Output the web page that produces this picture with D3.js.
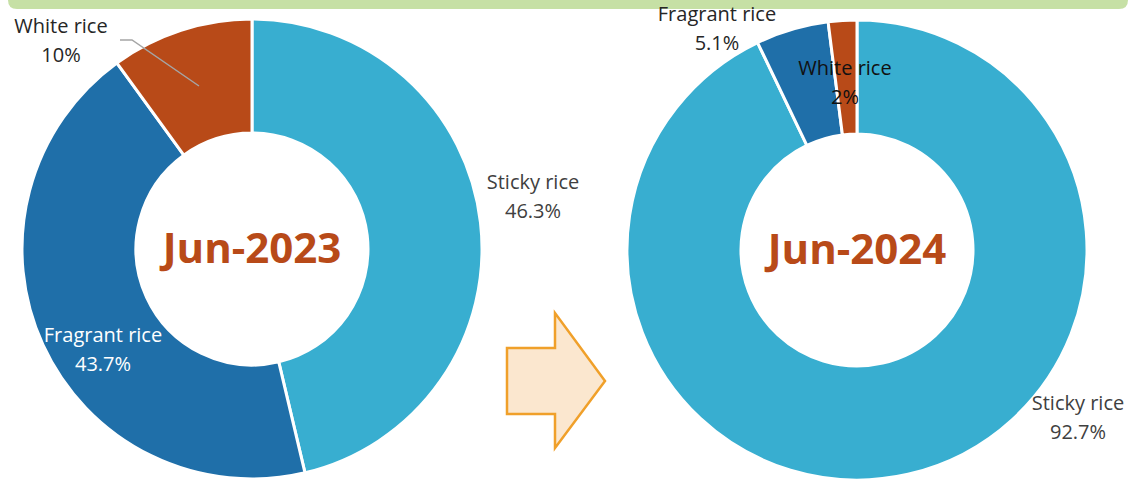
<!DOCTYPE html>
<html>
<head>
<meta charset="utf-8">
<script src="https://cdn.jsdelivr.net/npm/d3@7"></script>
<style>
  body { margin: 0; background: #fff; }
  svg { display: block; font-family: "Open Sans", "Noto Sans", sans-serif; }
</style>
</head>
<body>
<div id="chart"></div>
<script>
// data
const categories = ["Sticky rice", "Fragrant rice", "White rice"];
const values2023 = [46.3, 43.7, 10];
const values2024 = [92.7, 5.1, 2];
const periodLabels = ["Jun-2023", "Jun-2024"];

const W = 1130, H = 481;
const COLOURS = {
    "Sticky rice": "#38aed0",
    "Fragrant rice": "#1f6fa9",
    "White rice": "#b84a18",
    TITLE: "#b84a18",
    BAND: "#c6e0a5",
    ARROW_FILL: "#fbe7cf",
    ARROW_STROKE: "#f0a02a",
    LEADER: "#a5a5a5"
};

// layout of each donut and where its labels sit
const donuts = [
    {
        values: values2023, title: periodLabels[0], cx: 252, cy: 249,
        labels: {
            "Sticky rice": {x: 533, y: 189, fill: "#404040"},
            "Fragrant rice": {x: 103, y: 342, fill: "#ffffff"},
            "White rice": {x: 61, y: 33, fill: "#262626"}
        },
        leader: [[120, 40], [132, 40], [199, 86]]
    },
    {
        values: values2024, title: periodLabels[1], cx: 857, cy: 250,
        labels: {
            "Sticky rice": {x: 1078, y: 410, fill: "#404040"},
            "Fragrant rice": {x: 717, y: 21, fill: "#262626"},
            "White rice": {x: 845, y: 75, fill: "#111111"}
        }
    }
];

const svg = d3.select("#chart").append("svg")
    .attr("width", W)
    .attr("height", H);

// green band at the top
svg.append("path")
    .attr("d", `M8,-1 H1128 V0 Q1128,9 1119,9 H17 Q8,9 8,0 Z`)
    .attr("fill", COLOURS.BAND);

const pie = d3.pie().sort(null).value(d => d.value);
const arc = d3.arc().innerRadius(116).outerRadius(230);

donuts.forEach(dn => {
    const rows = categories.map((c, i) => ({key: c, value: dn.values[i]}));
    const g = svg.append("g").attr("transform", `translate(${dn.cx},${dn.cy})`);

    g.selectAll("path")
        .data(pie(rows))
        .enter()
        .append("path")
        .attr("d", arc)
        .attr("fill", d => COLOURS[d.data.key])
        .attr("stroke", "#fff")
        .attr("stroke-width", 3)
        .attr("stroke-linejoin", "round");

    g.append("text")
        .attr("x", 0)
        .attr("y", 14)
        .attr("text-anchor", "middle")
        .attr("fill", COLOURS.TITLE)
        .style("font-size", "42px")
        .style("font-weight", "bold")
        .text(dn.title);

    if (dn.leader) {
        svg.append("path")
            .attr("d", d3.line()(dn.leader))
            .attr("fill", "none")
            .attr("stroke", COLOURS.LEADER)
            .attr("stroke-width", 1.5);
    }

    rows.forEach(r => {
        const p = dn.labels[r.key];
        const t = svg.append("text")
            .attr("text-anchor", "middle")
            .attr("fill", p.fill)
            .style("font-size", "20px");
        t.append("tspan").attr("x", p.x).attr("y", p.y).text(r.key);
        t.append("tspan").attr("x", p.x).attr("y", p.y + 29).text(r.value + "%");
    });
});

// arrow between the two donuts
const arrowPts = [[507, 348], [555, 348], [555, 313], [605, 381], [555, 448], [555, 414], [507, 414]];
svg.append("path")
    .attr("d", d3.line()(arrowPts) + "Z")
    .attr("fill", COLOURS.ARROW_FILL)
    .attr("stroke", COLOURS.ARROW_STROKE)
    .attr("stroke-width", 2.5)
    .attr("stroke-linejoin", "miter");
</script>
</body>
</html>
